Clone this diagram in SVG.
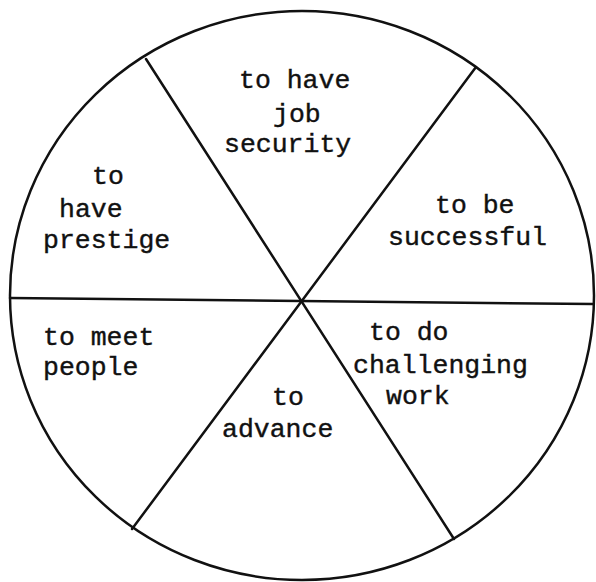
<svg xmlns="http://www.w3.org/2000/svg" width="596" height="582" viewBox="0 0 596 582">
<style>
.t{font-family:"Liberation Mono","DejaVu Sans Mono",monospace;font-size:26.5px;fill:#111;stroke:#111;stroke-width:0.4}
.l{stroke:#111;fill:none;stroke-width:2.5;stroke-linecap:round}
</style>
<rect width="596" height="582" fill="#fff"/>
<g id="connectors">
<ellipse class="l" cx="302" cy="295.5" rx="292" ry="284.5" stroke-width="3"/>
<line class="l" x1="146" y1="59" x2="454" y2="539"/>
<line class="l" x1="476" y1="67" x2="132" y2="529"/>
<line class="l" x1="10" y1="298" x2="593" y2="304" stroke-width="3"/>
</g>
<g id="job-security">
<text class="t" x="239" y="88">to have</text>
<text class="t" x="273" y="122">job</text>
<text class="t" x="224" y="152">security</text>
</g>
<g id="prestige">
<text class="t" x="92" y="184">to</text>
<text class="t" x="59" y="217">have</text>
<text class="t" x="43" y="248">prestige</text>
</g>
<g id="successful">
<text class="t" x="435" y="213">to be</text>
<text class="t" x="388" y="245">successful</text>
</g>
<g id="meet-people">
<text class="t" x="43" y="345">to meet</text>
<text class="t" x="43" y="375">people</text>
</g>
<g id="advance">
<text class="t" x="272" y="405">to</text>
<text class="t" x="222" y="437">advance</text>
</g>
<g id="challenging-work">
<text class="t" x="369" y="340">to do</text>
<text class="t" x="353" y="373">challenging</text>
<text class="t" x="386" y="404">work</text>
</g>
</svg>
